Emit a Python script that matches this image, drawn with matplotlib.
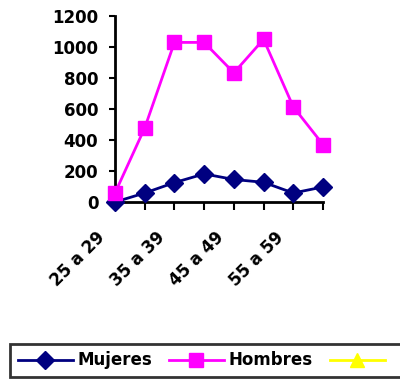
import matplotlib
matplotlib.use("Agg")
import matplotlib.pyplot as plt
import matplotlib.transforms as mtransforms
import numpy as np

plt.rcParams['font.family'] = ['DejaVu Sans']

categories = ["25 a 29", "30 a 34", "35 a 39", "40 a 44",
              "45 a 49", "50 a 54", "55 a 59", "60 a 64"]
mujeres = [0, 58, 125, 181, 145, 127, 58, 97]
hombres = [58, 477, 1028, 1028, 832, 1048, 613, 370]
tercera = [np.nan] * len(categories)
yticks = [0, 200, 400, 600, 800, 1000, 1200]

fig = plt.figure(figsize=(4.0, 3.85), dpi=100)
ax = fig.add_axes([0.2875, 0.4753, 0.52, 0.4839])

x = np.arange(len(categories))
ax.plot(x, mujeres, color="#000080", lw=2, marker="D", ms=9,
        mfc="#000080", mec="#000080", label="Mujeres", clip_on=False, zorder=3)
ax.plot(x, hombres, color="#FF00FF", lw=2, marker="s", ms=9.5,
        mfc="#FF00FF", mec="#FF00FF", label="Hombres", clip_on=False, zorder=4)
ax.plot(x, tercera, color="#FFFF00", lw=2, marker="^", ms=10,
        mfc="#FFFF00", mec="#FFFF00", label="      ")

ax.set_xlim(0, len(categories) - 1)
ax.set_ylim(0, 1200)
ax.set_yticks(yticks)
ax.set_yticklabels([str(v) for v in yticks], fontsize=12, fontweight="bold")
ax.set_xticks(x)
ax.set_xticklabels([])

# category labels, every second one, rotated below the axis
offset = mtransforms.ScaledTranslation(-0.19, -0.26, fig.dpi_scale_trans)
for i, c in enumerate(categories):
    if i % 2 == 0:
        ax.text(x[i], 0, c, rotation=45, ha="right", va="top",
                rotation_mode="anchor", fontsize=12, fontweight="bold",
                transform=ax.get_xaxis_transform() + offset)

for s in ["top", "right"]:
    ax.spines[s].set_visible(False)
for s in ["left", "bottom"]:
    ax.spines[s].set_linewidth(2)
    ax.spines[s].set_color("black")
ax.tick_params(axis="y", direction="out", length=4, width=1.5, pad=8)
ax.tick_params(axis="x", direction="out", length=6, width=1.5)

leg = fig.legend(loc="upper left", bbox_to_anchor=(0.025, 0.1065),
                 ncol=3, frameon=True, fancybox=False, edgecolor="black",
                 prop={"size": 12, "weight": "bold"}, handlelength=3.3,
                 handletextpad=0.3, columnspacing=1.0, borderpad=0.45,
                 borderaxespad=0)
leg.get_frame().set_linewidth(2)

fig.savefig("out.png", dpi=100)
